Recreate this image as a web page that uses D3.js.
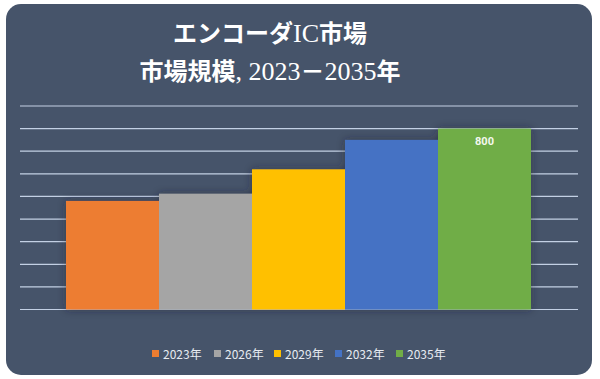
<!DOCTYPE html>
<html><head><meta charset="utf-8">
<script src="https://cdn.jsdelivr.net/npm/d3@7"></script>
<style>html,body{margin:0;padding:0;background:#fff;}svg{display:block;}</style>
</head><body>
<script>
const categories = ["2023年","2026年","2029年","2032年","2035年"];
const values = [480, 512, 620, 750, 800];
const colors = ["#ed7d31","#a5a5a5","#ffc000","#4472c4","#70ad47"];
const yTicks = [0,100,200,300,400,500,600,700,800,900];
const titleLines = [
  [["エンコーダ","jp"],["IC","serif"],["市場","jp"]],
  [["市場規模","jp"],[", 2023","serif"],["－","jp"],["2035","serif"],["年","jp"]]
];
const labeled = {"2035年": "800"};

const W = 600, H = 379;
const svg = d3.select("body").append("svg").attr("width", W).attr("height", H);
const defs = svg.append("defs");
const f = defs.append("filter").attr("id","sh").attr("x","-20%").attr("y","-20%").attr("width","140%").attr("height","140%");
f.append("feDropShadow").attr("dx",0).attr("dy",0).attr("stdDeviation",4).attr("flood-color","#1c2433").attr("flood-opacity",0.5);

svg.append("rect").attr("x",6).attr("y",4).attr("width",586).attr("height",371).attr("rx",15).attr("fill","#46546a");

const x = d3.scaleBand().domain(categories).range([66, 531]).padding(0);
const y = d3.scaleLinear().domain([0, 900]).range([309.5, 106]);

svg.append("g").selectAll("line").data(yTicks).join("line")
  .attr("x1",20).attr("x2",578)
  .attr("y1",d=>y(d)).attr("y2",d=>y(d))
  .attr("stroke","#c3d0e4").attr("stroke-width",1.2);

svg.append("g").attr("filter","url(#sh)").selectAll("rect").data(categories).join("rect")
  .attr("x",d=>x(d)).attr("width",x.bandwidth())
  .attr("y",(d,i)=>y(values[i])).attr("height",(d,i)=>y(0)-y(values[i]))
  .attr("fill",(d,i)=>colors[i]);

svg.append("g").selectAll("text").data(categories.filter(c=>labeled[c])).join("text")
  .attr("x",d=>x(d)+x.bandwidth()/2)
  .attr("y",d=>y(values[categories.indexOf(d)])+16)
  .attr("text-anchor","middle")
  .attr("font-family","Roboto, 'Noto Sans', sans-serif").attr("font-weight","bold")
  .attr("font-size",11).attr("fill","#f4f8ee")
  .text(d=>labeled[d]);

const fam = {jp:"'Noto Sans CJK JP', sans-serif", serif:"'Liberation Serif', 'DejaVu Serif', serif"};
const tt = svg.append("g").selectAll("text").data(titleLines).join("text")
  .attr("x",270).attr("y",(d,i)=>42+i*38)
  .attr("text-anchor","middle")
  .attr("font-size",24).attr("fill","#ffffff");
tt.selectAll("tspan").data(d=>d).join("tspan")
  .attr("font-family",d=>fam[d[1]])
  .attr("font-weight",d=>d[1]==="jp"?"bold":"normal")
  .attr("font-size",d=>d[1]==="serif"?26:24)
  .text(d=>d[0]);

const lx = [155,217,277,338,399];
const lg = svg.append("g").selectAll("g").data(categories).join("g")
  .attr("transform",(d,i)=>`translate(${lx[i]},354)`);
lg.append("rect").attr("x",-3).attr("y",-4).attr("width",7).attr("height",7).attr("fill",(d,i)=>colors[i]);
lg.append("text").attr("x",8).attr("y",4.5)
  .attr("font-family","'Noto Sans CJK JP', sans-serif").attr("font-size",12).attr("fill","#e6ebf2")
  .text(d=>d);
</script>
</body></html>
